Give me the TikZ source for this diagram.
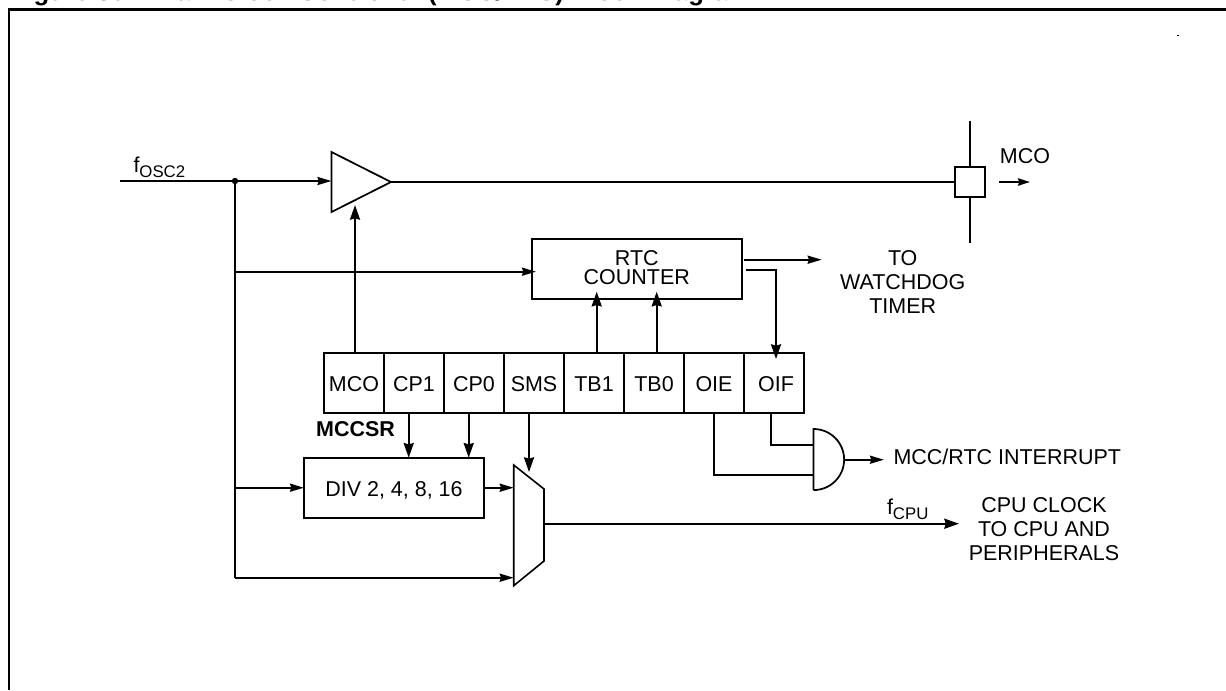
\documentclass[tikz,border=0pt]{standalone}
\usepackage{fontspec}
\setmainfont{Liberation Sans}
\usetikzlibrary{arrows.meta}
\tikzset{
  x=0.75pt,y=-0.75pt,
  wire/.style={line width=1.6pt,line cap=butt,line join=miter},
  thin wire/.style={line width=1.2pt,line join=miter},
  arr/.style={wire,-{Stealth[length=10.5pt,width=6pt,inset=1pt]}},
  bigarr/.style={wire,-{Stealth[length=11pt,width=7.5pt,inset=1pt]}},
  cell/.style={draw,line width=1.6pt,minimum width=45pt,minimum height=45pt,inner sep=0pt,outer sep=0pt,font=\lbl,text height=13.5pt,text depth=0pt},
  lab/.style={inner sep=0pt,outer sep=0pt,font=\lbl},
  stacked/.style={lab,align=center}
}
\newcommand{\lbl}{\fontsize{16.1}{16.1}\selectfont}
\newcommand{\sublbl}[1]{\raisebox{-3.75pt}{\fontsize{12.6}{12.6}\selectfont #1}}
\begin{document}
\begin{tikzpicture}
\useasboundingbox (0,0) rectangle (1226,690);
\fill[white] (0,0) rectangle (1226,690);

% title, cut by the page edge
\node[anchor=base west,inner sep=0pt,font=\fontsize{19.3}{19.3}\bfseries\selectfont] (title) at (10.5,0.5) {Figure 30.\hspace{17pt}Main Clock Controller (MCC/RTC) Block Diagram};

% frame
\coordinate (frameBL) at (8.7,690);
\coordinate (frameTL) at (8.7,9.5);
\coordinate (frameTR) at (1226,9.5);
\draw[line width=1.8pt] (frameBL) -- (frameTL) -- (frameTR);
\node[fill=black,inner sep=0pt,minimum size=1.3pt] (speck) at (1178,35.5) {};

% input
\coordinate (in) at (120,181);
\coordinate (junction) at (235,181);
\node[lab,anchor=base west] (fosc) at (133.5,172) {f\sublbl{OSC2}};

% output buffer
\coordinate (bufTop) at (331.5,152);
\coordinate (bufBot) at (331.5,212);
\coordinate (bufTip) at (391,182);
\coordinate (bufIn) at (331.5,181);
\draw[thin wire,line width=1.3pt] (bufTop) -- (bufTip) -- (bufBot) -- cycle;

% MCO pad
\node[draw,line width=1.6pt,minimum width=22.5pt,minimum height=22.5pt,inner sep=0pt,outer sep=0pt] (pad) at (970,182) {};
\coordinate (padUp) at (970,121);
\coordinate (padDown) at (970,243);
\node[lab] (mcoOut) at (1025,156) {MCO};
\coordinate (mcoA) at (999,182);
\coordinate (mcoB) at (1030,182);

% RTC counter
\node[draw,line width=1.6pt,minimum width=157.5pt,minimum height=45pt,inner sep=0pt,outer sep=0pt] (rtc) at (636.8,269) {};
\node[lab] (rtcA) at (636.8,258) {RTC};
\node[lab] (rtcB) at (636.8,277) {COUNTER};
\node[stacked] (wd1) at (902.7,258) {TO};
\node[stacked] (wd2) at (902.7,282) {WATCHDOG};
\node[stacked] (wd3) at (902.7,306) {TIMER};

% MCCSR register
\node[cell] (mco) at (354,382.7) {MCO};
\node[cell] (cpa) at (414,382.7) {CP1};
\node[cell] (cpb) at (474,382.7) {CP0};
\node[cell] (sms) at (534,382.7) {SMS};
\node[cell] (tba) at (594,382.7) {TB1};
\node[cell] (tbb) at (654,382.7) {TB0};
\node[cell] (oie) at (714,382.7) {OIE};
\node[cell] (oif) at (774,382.7) {\hspace{3pt}OIF};
\node[lab,font=\lbl\bfseries] (mccsr) at (355.5,429) {MCCSR};

% divider
\node[draw,line width=1.6pt,minimum width=135pt,minimum height=45pt,inner sep=0pt,outer sep=0pt,font=\lbl,text height=13.5pt,text depth=0pt] (div) at (394,487.7) {DIV 2, 4, 8, 16};

% mux
\coordinate (muxA) at (513.7,465);
\coordinate (muxB) at (544,489);
\coordinate (muxC) at (544,561);
\coordinate (muxD) at (513.7,585.7);
\draw[thin wire] (muxA) -- (muxB) -- (muxC) -- (muxD) -- cycle;

% AND gate
\coordinate (andT) at (813.6,429);
\coordinate (andB) at (813.6,490);
\draw[thin wire,line width=1.3pt] (andB) -- (andT) arc[start angle=90,end angle=-90,x radius=22.9pt,y radius=22.9pt];
\coordinate (andOut) at (844,459.7);
\node[lab,anchor=west] (intr) at (893.6,457) {MCC/RTC INTERRUPT};

% right-hand labels
\node[lab,anchor=base west] (fcpu) at (887,514) {f\sublbl{CPU}};
\node[stacked] (cpu1) at (1044,505) {CPU CLOCK};
\node[stacked] (cpu2) at (1044,529) {TO CPU AND};
\node[stacked] (cpu3) at (1044,553) {PERIPHERALS};

% connectors
\draw[arr] (in) -- (bufIn);
\fill (junction) circle[radius=3.2];
\coordinate (busBot) at (235,577.7);
\coordinate (busDiv) at (233.7,487.7);
\draw[wire] (junction) -- (busBot);
\coordinate (busRtc) at (235,271.7);
\coordinate (rtcIn) at (536,271.7);
\draw[arr] (busRtc) -- (rtcIn);
\draw[arr] (busDiv) -- (div.west);
\coordinate (muxInB) at (513.7,577.7);
\draw[arr] (busBot) -- (muxInB);
\coordinate (muxInA) at (513.7,487.7);
\draw[arr] (div.east) -- (muxInA);

\draw[wire] (bufTip) -- (pad.west);
\draw[wire] (padUp) -- (pad.north);
\draw[wire] (pad.south) -- (padDown);
\draw[wire,-{Stealth[length=9pt,width=5.5pt,inset=1pt]}] (mcoA) -- (mcoB);

\coordinate (bufCtl) at (355,205);
\draw[bigarr] (mco.north -| bufCtl) -- (bufCtl);

\coordinate (tbaUp) at (596.7,291.7);
\coordinate (tbbUp) at (656.7,291.7);
\draw[bigarr] (tba.north -| tbaUp) -- (tbaUp);
\draw[bigarr] (tbb.north -| tbbUp) -- (tbbUp);

\coordinate (wdA) at (744,259.7);
\coordinate (wdB) at (821.7,259.7);
\draw[arr] (wdA) -- (wdB);
\coordinate (oifA) at (746,270);
\coordinate (oifB) at (776,270);
\coordinate (oifC) at (776,359);
\draw[bigarr] (oifA) -- (oifB) -- (oifC);

\coordinate (cpaD) at (408.7,457.7);
\coordinate (cpbD) at (468.7,457.7);
\coordinate (smsD) at (529,472);
\draw[bigarr] (cpa.south -| cpaD) -- (cpaD);
\draw[bigarr] (cpb.south -| cpbD) -- (cpbD);
\draw[bigarr] (sms.south -| smsD) -- (smsD);

\coordinate (oifS) at (771,445);
\coordinate (oieS) at (714,475);
\coordinate (andInA) at (813.6,445);
\coordinate (andInB) at (813.6,475);
\draw[wire] (oif.south -| oifS) -- (oifS) -- (andInA);
\draw[wire] (oie.south -| oieS) -- (oieS) -- (andInB);
\coordinate (intrTip) at (884,459.7);
\draw[arr] (andOut) -- (intrTip);

\coordinate (muxOut) at (544,523.7);
\coordinate (cpuTip) at (959,523.7);
\draw[bigarr] (muxOut) -- (cpuTip);
\end{tikzpicture}
\end{document}
